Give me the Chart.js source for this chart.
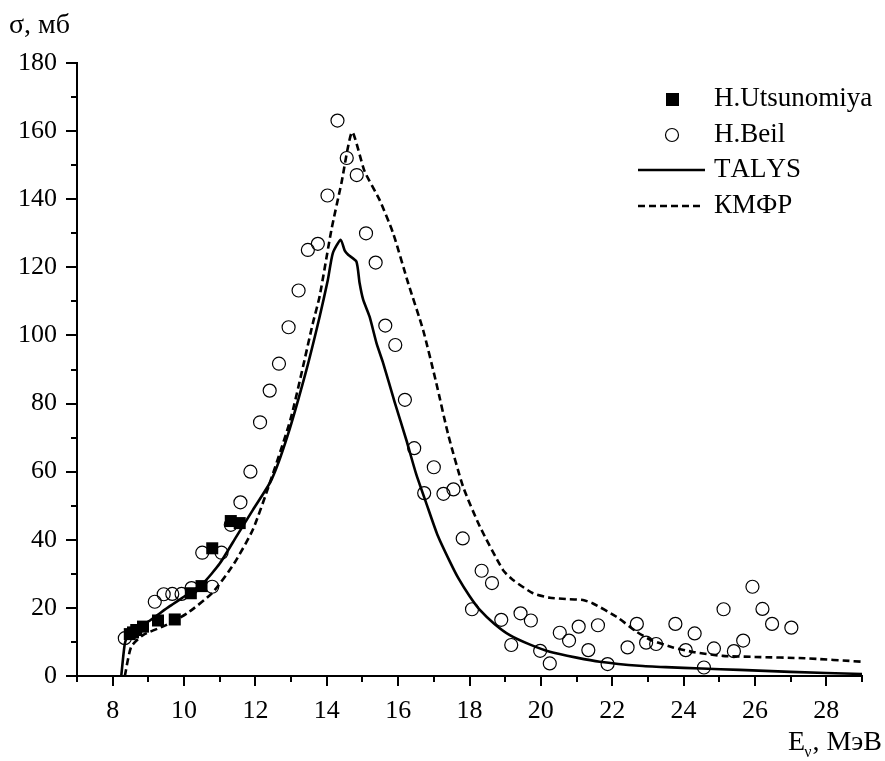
<!DOCTYPE html>
<html>
<head>
<meta charset="utf-8">
<script src="https://cdn.jsdelivr.net/npm/chart.js@4"></script>
<style>
  html, body { margin: 0; padding: 0; background: #fff; }
  #wrap { width: 885px; height: 761px; }
</style>
</head>
<body>
<div id="wrap"><canvas id="sigmaChart" width="885" height="761"></canvas></div>
<script>
// data (E in MeV, sigma in mb)
const utsE     = [8.48, 8.57, 8.66, 8.85, 9.27, 9.74, 10.19, 10.49, 10.79, 11.31, 11.56];
const utsSigma = [12.3, 12.8, 13.5, 14.5, 16.3, 16.6, 24.3, 26.4, 37.5, 45.5, 44.9];

const beilE = [8.34, 9.18, 9.43, 9.67, 9.93, 10.21, 10.51, 10.79, 11.05, 11.31, 11.58, 11.86,
  12.13, 12.40, 12.66, 12.93, 13.21, 13.47, 13.75, 14.02, 14.30, 14.56, 14.84, 15.10, 15.37,
  15.64, 15.92, 16.19, 16.45, 16.73, 17.00, 17.27, 17.55, 17.81, 18.07, 18.34, 18.63, 18.89,
  19.17, 19.43, 19.72, 19.98, 20.25, 20.53, 20.79, 21.06, 21.33, 21.60, 21.87, 22.43, 22.69,
  22.95, 23.23, 23.77, 24.06, 24.31, 24.57, 24.85, 25.12, 25.41, 25.67, 25.93, 26.21, 26.48, 27.02];
const beilSigma = [11.1, 21.8, 24.0, 24.1, 24.1, 25.8, 36.2, 26.2, 36.2, 44.4, 51.0, 60.0,
  74.5, 83.8, 91.7, 102.4, 113.2, 125.1, 126.9, 141.1, 163.1, 152.1, 147.1, 130.0, 121.4,
  102.9, 97.2, 81.1, 66.9, 53.7, 61.3, 53.5, 54.8, 40.4, 19.6, 30.9, 27.3, 16.5,
  9.1, 18.4, 16.3, 7.4, 3.7, 12.7, 10.4, 14.5, 7.6, 14.9, 3.5, 8.4, 15.3,
  9.8, 9.4, 15.3, 7.6, 12.5, 2.5, 8.1, 19.6, 7.3, 10.4, 26.2, 19.7, 15.3, 14.2];

const talysE = [8.24, 8.34, 8.45, 9.0, 9.6, 10.1, 10.53, 11.0, 11.47, 11.93, 12.45, 12.9, 13.43,
  13.8, 14.03, 14.17, 14.39, 14.5, 14.6, 14.83, 14.92, 15.02, 15.2, 15.4, 15.58, 15.9, 16.23,
  16.5, 16.79, 17.1, 17.45, 17.7, 18.0, 18.29, 18.7, 19.13, 19.7, 20.25, 21.0, 21.65, 22.76,
  23.5, 24.5, 25.57, 27.0, 29.0];
const talysSigma = [0, 9.5, 12.3, 16.0, 20.5, 24.0, 27.2, 33.0, 41.0, 48.8, 57.6, 70.5, 89.9,
  105.5, 116.3, 124.2, 128.1, 125.0, 123.7, 121.7, 115.4, 110.5, 105.5, 97.5, 91.9, 80.5, 69.3,
  59.5, 50.7, 41.5, 33.6, 28.5, 23.5, 19.4, 15.3, 12.0, 9.2, 7.1, 5.4, 4.2, 3.0,
  2.6, 2.2, 1.8, 1.2, 0.6];

const kmfrE = [8.34, 8.52, 8.85, 9.51, 10.1, 10.8, 11.4, 11.93, 12.4, 13.0, 13.61, 13.8, 14.13,
  14.41, 14.71, 15.06, 15.48, 15.86, 16.28, 16.70, 17.07, 17.40, 17.82, 18.29, 18.94, 19.22,
  19.78, 20.25, 20.7, 21.18, 21.46, 22.12, 22.68, 23.1, 23.7, 24.3, 25.1, 26.0, 27.4, 29.0];
const kmfrSigma = [0, 8.6, 12.0, 15.0, 18.5, 24.5, 33.0, 43.0, 56.6, 76.0, 103.6, 111.5, 131.0,
  144.7, 159.7, 148.2, 139.8, 130.0, 115.4, 101.6, 86.0, 71.0, 55.6, 43.9, 31.1, 28.2,
  24.3, 23.0, 22.6, 22.3, 21.3, 17.4, 13.0, 10.5, 8.4, 7.0, 5.9, 5.6, 5.2, 4.2];

const xTickLabels = [8, 10, 12, 14, 16, 18, 20, 22, 24, 26, 28];
const yTickLabels = [0, 20, 40, 60, 80, 100, 120, 140, 160, 180];

const serif = '"Liberation Serif", "Times New Roman", serif';

function pts(xs, ys) { return xs.map((x, i) => ({x: x, y: ys[i]})); }

// tick marks (major longer than minor), legend and axis titles
const decor = {
  id: 'decor',
  afterDraw(chart) {
    const ctx = chart.ctx;
    const xs = chart.scales.x, ys = chart.scales.y;
    const area = chart.chartArea;
    ctx.save();
    ctx.strokeStyle = '#000';
    ctx.lineWidth = 2;
    xs.ticks.forEach(t => {
      const px = Math.round(xs.getPixelForValue(t.value));
      const len = xTickLabels.includes(t.value) ? 10 : 6;
      ctx.beginPath(); ctx.moveTo(px, area.bottom); ctx.lineTo(px, area.bottom + len); ctx.stroke();
    });
    ys.ticks.forEach(t => {
      const py = Math.round(ys.getPixelForValue(t.value));
      const len = yTickLabels.includes(t.value) ? 11 : 6;
      ctx.beginPath(); ctx.moveTo(area.left, py); ctx.lineTo(area.left - len, py); ctx.stroke();
    });

    // legend
    ctx.fillStyle = '#000';
    if ('fontKerning' in ctx) ctx.fontKerning = 'none';
    ctx.font = '27px ' + serif;
    ctx.textBaseline = 'middle';
    ctx.textAlign = 'left';
    const names = chart.data.datasets.map(d => d.label);
    ctx.fillRect(666, 93, 13, 13);
    ctx.fillText(names[0], 714, 99);
    ctx.lineWidth = 1.2;
    ctx.beginPath(); ctx.arc(672, 135, 6.5, 0, Math.PI * 2); ctx.stroke();
    ctx.fillText(names[1], 714, 135);
    ctx.lineWidth = 2.6;
    ctx.beginPath(); ctx.moveTo(638, 170); ctx.lineTo(705, 170); ctx.stroke();
    ctx.fillText(names[2], 714, 170);
    ctx.setLineDash([7, 4]);
    ctx.beginPath(); ctx.moveTo(638, 206); ctx.lineTo(703, 206); ctx.stroke();
    ctx.setLineDash([]);
    ctx.fillText(names[3], 714, 206);

    // axis titles
    ctx.textBaseline = 'alphabetic';
    ctx.font = '28px ' + serif;
    ctx.fillText('σ, мб', 9, 33);
    const rest = ', МэВ';
    const wE = ctx.measureText('E').width;
    const wR = ctx.measureText(rest).width;
    ctx.font = '16px ' + serif;
    const wN = ctx.measureText('ν').width;
    const x0 = 882 - wE - wN - wR;
    ctx.font = '28px ' + serif;
    ctx.fillText('E', x0, 750);
    ctx.fillText(rest, x0 + wE + wN, 750);
    ctx.font = '16px ' + serif;
    ctx.fillText('ν', x0 + wE - 1, 757);
    ctx.restore();
  }
};

const ctx = document.getElementById('sigmaChart').getContext('2d');
new Chart(ctx, {
  type: 'scatter',
  data: {
    datasets: [
      {label: 'H.Utsunomiya', data: pts(utsE, utsSigma), pointStyle: 'rect', pointRadius: 8.5,
       backgroundColor: '#000', borderColor: '#000', borderWidth: 0, order: 0},
      {label: 'H.Beil', data: pts(beilE, beilSigma), pointStyle: 'circle', pointRadius: 6.5,
       backgroundColor: 'rgba(0,0,0,0)', borderColor: '#000', borderWidth: 1.2, order: 1},
      {label: 'TALYS', data: pts(talysE, talysSigma), showLine: true, pointRadius: 0,
       borderColor: '#000', borderWidth: 2.6, tension: 0.2, order: 2},
      {label: 'КМФР', data: pts(kmfrE, kmfrSigma), showLine: true, pointRadius: 0,
       borderColor: '#000', borderWidth: 2.6, borderDash: [7, 4], tension: 0.2, order: 3}
    ]
  },
  options: {
    responsive: false,
    animation: false,
    layout: {padding: {top: 63, right: 23, left: 0, bottom: 0}},
    plugins: {legend: {display: false}, tooltip: {enabled: false}},
    scales: {
      x: {
        type: 'linear', min: 7, max: 29,
        afterFit: s => { s.height = 85; },
        border: {display: true, color: '#000', width: 2},
        grid: {display: false, drawTicks: false},
        ticks: {
          stepSize: 1, autoSkip: false, maxRotation: 0, padding: 20, color: '#000',
          font: {family: serif, size: 26},
          callback: v => xTickLabels.includes(v) ? String(v) : ''
        }
      },
      y: {
        type: 'linear', min: 0, max: 180,
        afterFit: s => { s.width = 77; },
        border: {display: true, color: '#000', width: 2},
        grid: {display: false, drawTicks: false},
        ticks: {
          stepSize: 10, autoSkip: false, padding: 20, color: '#000',
          font: {family: serif, size: 26},
          callback: v => yTickLabels.includes(v) ? String(v) : ''
        }
      }
    }
  },
  plugins: [decor]
});
</script>
</body>
</html>
